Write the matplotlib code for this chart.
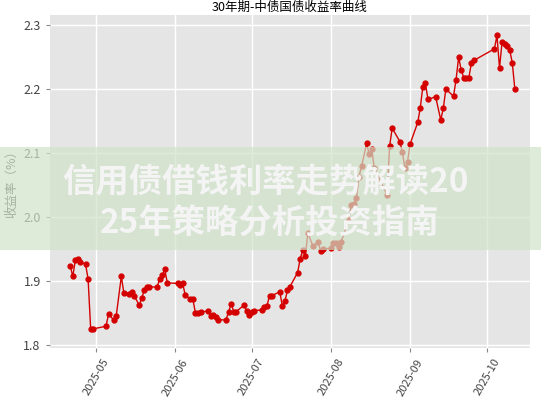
import numpy as np
import pandas as pd
import matplotlib
matplotlib.use('Agg')
import matplotlib.pyplot as plt
from matplotlib.patches import Rectangle

plt.rcParams['font.family'] = ['Noto Sans CJK SC', 'DejaVu Sans']

#--------------------------------
# days since 2025-05-01
days = [-10, -9, -8, -7, -6, -4, -3, -2, -1, 4, 5, 7, 8, 10, 11, 13, 14, 15, 17, 18,
        19, 20, 21, 24, 25, 26, 27, 28, 32, 33, 34, 35, 37, 38, 39, 40, 41, 44, 45, 46,
        47, 48, 51, 52, 53, 54, 55, 58, 59, 60, 61, 62, 65, 66, 67, 68, 69, 72, 73, 74,
        75, 76, 79, 80, 81, 82, 83, 85, 87, 88, 89, 92, 93, 94, 95, 96, 99, 100, 101, 102,
        103, 104, 106, 107, 108, 109, 114, 115, 116, 119, 120, 121, 122, 123, 126, 127, 128, 129, 130, 133,
        135, 136, 137, 140, 141, 142, 143, 144, 145, 146, 147, 148, 156, 157, 158, 159, 160, 161, 162, 163,
        164]
yields = [1.924, 1.907, 1.932, 1.934, 1.930, 1.926, 1.903, 1.825, 1.825, 1.829, 1.848, 1.839, 1.845, 1.907, 1.881, 1.880, 1.883, 1.877, 1.862, 1.873,
          1.886, 1.890, 1.891, 1.890, 1.903, 1.909, 1.918, 1.897, 1.896, 1.893, 1.896, 1.878, 1.871, 1.871, 1.850, 1.850, 1.851, 1.853, 1.845, 1.847,
          1.843, 1.839, 1.839, 1.852, 1.864, 1.852, 1.852, 1.862, 1.853, 1.847, 1.851, 1.853, 1.855, 1.859, 1.861, 1.877, 1.877, 1.883, 1.861, 1.868,
          1.885, 1.891, 1.913, 1.935, 1.948, 1.939, 1.975, 1.954, 1.961, 1.947, 1.950, 1.951, 1.960, 1.960, 1.953, 1.961, 1.995, 2.019, 2.021, 2.029,
          2.063, 2.079, 2.115, 2.098, 2.106, 2.076, 2.035, 2.111, 2.139, 2.118, 2.101, 2.076, 2.086, 2.114, 2.148, 2.171, 2.204, 2.209, 2.184, 2.188,
          2.152, 2.170, 2.200, 2.189, 2.215, 2.250, 2.230, 2.218, 2.218, 2.218, 2.241, 2.245, 2.263, 2.284, 2.233, 2.274, 2.270, 2.268, 2.261, 2.241,
          2.200]
tick_months = ['2025-05', '2025-06', '2025-07', '2025-08', '2025-09', '2025-10']
title = '30年期-中债国债收益率曲线'
ylabel = '收益率（%）'
banner = '信用债借钱利率走势解读2025年策略分析投资指南'

#--------------------------------
def main() :
    dates = pd.Timestamp('2025-05-01') + pd.to_timedelta(days, unit='D')
    fig = plt.figure(figsize=(5.41, 4.0), dpi=100, facecolor='w')
    ax = fig.add_axes([0.092, 0.13, 0.888, 0.8325])
    ax.set_facecolor('#e5e5e5')
    ax.grid(True, color='white', linewidth=1.0)
    ax.set_axisbelow(True)
    for s in ax.spines.values() :
        s.set_visible(False)

    ax.plot(dates, yields, color='#d40000', linewidth=1.0, marker='o', markersize=3.5)

    ticks = pd.to_datetime(tick_months)
    ax.set_xticks(ticks)
    ax.set_xticklabels(tick_months, rotation=60, fontsize=8, color='#444444')
    ax.set_xlim(pd.Timestamp('2025-05-01') - pd.Timedelta(days=18), pd.Timestamp('2025-05-01') + pd.Timedelta(days=170))
    ax.set_ylim(1.795, 2.316)
    ax.set_yticks([1.8, 1.9, 2.0, 2.1, 2.2, 2.3])
    ax.tick_params(axis='y', labelsize=9, colors='#444444')
    ax.tick_params(length=3, color='#888888')
    ax.set_title(title, fontsize=9, pad=3)
    ax.set_ylabel(ylabel, fontsize=9, color='#444444')

    # watermark band
    fig.patches.append(Rectangle((0, 1 - 250/400.), 1, 103/400., transform=fig.transFigure,
                                 facecolor='#cfe3c8', alpha=0.7, edgecolor='none', zorder=5))
    fig.text(62/541., 1 - 183/400., banner[:13], ha='left', va='center', fontsize=24,
             fontweight='bold', color='#f4f4f4', zorder=6)
    fig.text(100/541., 1 - 224/400., banner[13:], ha='left', va='center', fontsize=24,
             fontweight='bold', color='#f4f4f4', zorder=6)

    fig.savefig('out.png', dpi=100)

if __name__ == "__main__" :
    main()
